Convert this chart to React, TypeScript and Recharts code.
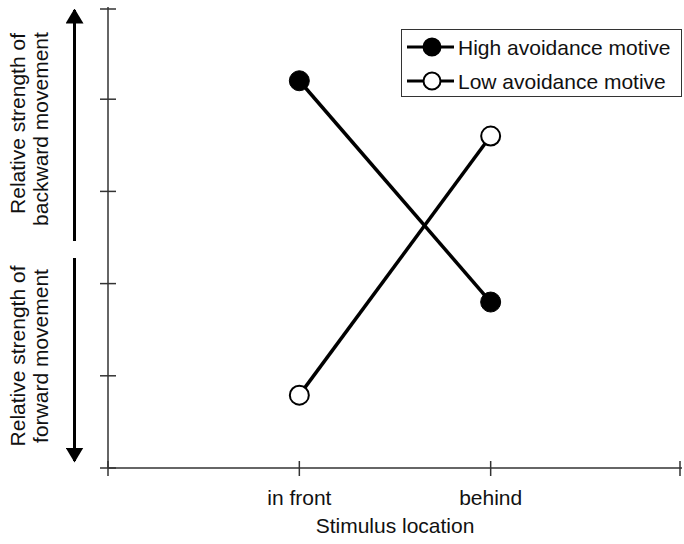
import { LineChart, Line, XAxis, YAxis } from 'recharts';

const FONT = '"Liberation Sans", Arial, Helvetica, sans-serif';

const locations = ['in front', 'behind'];
const highAvoidance = [4.2, 1.8];
const lowAvoidance = [0.79, 3.6];
const xTicks = [0, 1, 2, 3];
const xTickLabels = ['', 'in front', 'behind', ''];
const yTicks = [0, 1, 2, 3, 4, 5];

const data = locations.map((loc, i) => ({
  pos: i + 1,
  location: loc,
  high: highAvoidance[i],
  low: lowAvoidance[i],
}));

const AXIS = '#333';

const YTick = ({ x, y }: { x?: number; y?: number }) => (
  <line x1={(x ?? 0) - 8} x2={(x ?? 0) + 8} y1={y} y2={y} stroke={AXIS} strokeWidth={1.5} />
);

const XTick = ({ x, y, payload }: { x?: number; y?: number; payload?: { value: number } }) => {
  const label = xTickLabels[payload?.value ?? 0];
  return (
    <g>
      <line x1={x} x2={x} y1={(y ?? 0) - 7} y2={(y ?? 0) + 8} stroke={AXIS} strokeWidth={1.5} />
      {label && (
        <text x={x} y={(y ?? 0) + 37} textAnchor="middle" fontSize={21} fontFamily={FONT} fill="#111">
          {label}
        </text>
      )}
    </g>
  );
};

const legendItems = [
  { label: 'High avoidance motive', fill: '#000', cy: 18 },
  { label: 'Low avoidance motive', fill: '#fff', cy: 52 },
];

const LegendBox = () => (
  <svg width={282} height={69} style={{ position: 'absolute', left: 401, top: 29 }}>
    <rect x={0.5} y={0.5} width={280} height={67} fill="#fff" stroke="#333" strokeWidth={1} />
    {legendItems.map((e) => (
      <g key={e.label}>
        <line x1={6} x2={53} y1={e.cy} y2={e.cy} stroke="#000" strokeWidth={3} />
        <circle cx={31} cy={e.cy} r={8.5} fill={e.fill} stroke="#000" strokeWidth={2} />
        <text x={57} y={e.cy + 7.5} fontSize={21} fontFamily={FONT} fill="#111">{e.label}</text>
      </g>
    ))}
  </svg>
);

export default function App() {
  return (
    <div style={{ position: 'absolute', left: 0, top: 0, width: 684, height: 544, background: '#fff' }}>
      <LineChart width={684} height={544} data={data} margin={{ top: 7, right: 2, bottom: 0, left: 0 }}>
        <XAxis
          dataKey="pos"
          type="number"
          domain={[0, 3]}
          ticks={xTicks}
          height={76}
          tickSize={0}
          tickMargin={0}
          tickLine={false}
          stroke={AXIS}
          strokeWidth={1.5}
          tick={<XTick />}
          label={({ viewBox }: any) => (
            <text x={viewBox.x + viewBox.width / 2} y={viewBox.y + 65} textAnchor="middle" fontSize={21} fontFamily={FONT} fill="#111">
              Stimulus location
            </text>
          )}
        />
        <YAxis
          type="number"
          domain={[0, 5]}
          ticks={yTicks}
          width={108}
          tickSize={0}
          tickMargin={0}
          tickLine={false}
          stroke={AXIS}
          strokeWidth={1.5}
          tick={<YTick />}
        />
        <Line
          dataKey="high"
          name="High avoidance motive"
          stroke="#000"
          strokeWidth={3.5}
          dot={{ r: 10, fill: '#000', stroke: '#000', strokeWidth: 1 }}
          isAnimationActive={false}
        />
        <Line
          dataKey="low"
          name="Low avoidance motive"
          stroke="#000"
          strokeWidth={3.5}
          dot={{ r: 9.5, fill: '#fff', stroke: '#000', strokeWidth: 2 }}
          isAnimationActive={false}
        />
      </LineChart>
      <LegendBox />
      <svg width={100} height={544} style={{ position: 'absolute', left: 0, top: 0, pointerEvents: 'none' }}>
        <defs>
          <marker id="ah" markerWidth={5} markerHeight={6} refX={4.5} refY={3} orient="auto" markerUnits="strokeWidth">
            <path d="M0,0 L5,3 L0,6 Z" fill="#000" />
          </marker>
        </defs>
        <line x1={74.5} y1={241} x2={74.5} y2={10} stroke="#000" strokeWidth={3} markerEnd="url(#ah)" />
        <line x1={74.5} y1={258} x2={74.5} y2={461} stroke="#000" strokeWidth={3} markerEnd="url(#ah)" />
        <g fontFamily={FONT} fontSize={21} fill="#111" textAnchor="middle">
          <text transform="translate(25,123.5) rotate(-90)">Relative strength of</text>
          <text transform="translate(48,129) rotate(-90)">backward movement</text>
          <text transform="translate(25,356) rotate(-90)">Relative strength of</text>
          <text transform="translate(48,356) rotate(-90)">forward movement</text>
        </g>
      </svg>
    </div>
  );
}
